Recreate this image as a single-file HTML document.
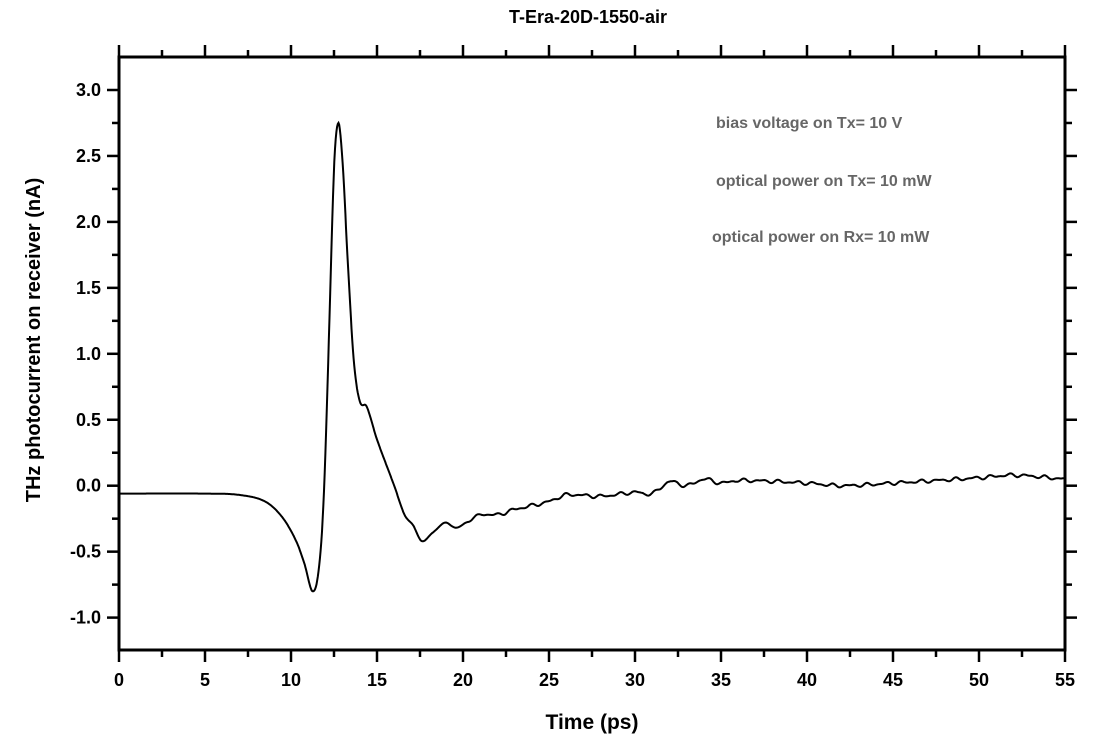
<!DOCTYPE html><html><head><style>body{margin:0;background:#fff}svg{display:block}text{font-family:"Liberation Sans",Arial,sans-serif;font-weight:bold}</style></head><body>
<svg id="s" width="1100" height="749" xmlns="http://www.w3.org/2000/svg">
<text x="588" y="23" font-size="18" text-anchor="middle">T-Era-20D-1550-air</text>
<text x="592" y="729" font-size="21" text-anchor="middle">Time (ps)</text>
<text transform="translate(40,340) rotate(-90)" font-size="20" text-anchor="middle">THz photocurrent on receiver (nA)</text>
<g fill="#666" font-size="16"><text x="716" y="128">bias voltage on Tx= 10 V</text><text x="716" y="186">optical power on Tx= 10 mW</text><text x="712" y="242">optical power on Rx= 10 mW</text></g>
<rect x="119" y="57" width="946" height="593" fill="none" stroke="#000" stroke-width="3"/>
<g id="ax" stroke="#000" stroke-width="2.5"></g><g id="lb" font-size="18"></g>
<polyline id="c" fill="none" stroke="#000" stroke-width="2"/>
</svg>
<script>
var X=t=>119+t*946/55,Y=v=>485.7-v*131.9,ax=document.getElementById('ax'),lb=document.getElementById('lb'),h='',l='';
for(var t=0;t<=55;t+=2.5){var m=t%5==0,L=m?12:7,x=X(t);h+=`<line x1="${x}" y1="650" x2="${x}" y2="${650+L}"/><line x1="${x}" y1="57" x2="${x}" y2="${57-L}"/>`;if(m)l+=`<text x="${x}" y="686" text-anchor="middle">${t}</text>`;}
for(var i=-5;i<=12;i++){var v=i*0.25,y=Y(v),m=i%2==0,L=m?12:7;if(y<57||y>650)continue;h+=`<line x1="119" y1="${y}" x2="${119-L}" y2="${y}"/><line x1="1065" y1="${y}" x2="${1065+L}" y2="${y}"/>`;if(m)l+=`<text x="101" y="${y+6}" text-anchor="end">${v.toFixed(1)}</text>`;}
ax.innerHTML=h;lb.innerHTML=l;
var d=[[0,-.06],[5,-.06],[7,-.07],[8.5,-.12],[9.5,-.24],[10.3,-.42],[10.8,-.6],[11.25,-.8],[11.6,-.65],[11.9,-.1],[12.2,1.1],[12.5,2.4],[12.75,2.75],[13.0,2.45],[13.3,1.7],[13.65,0.95],[14,.64],[14.4,.6],[15,.35],[16,0],[16.6,-.22],[17.1,-.3],[17.6,-.42],[18.2,-.36],[19,-.28],[19.6,-.32],[20.3,-.27],[21,-.22],[22,-.22],[23,-.18],[25,-.12],[26,-.07],[28,-.08],[30,-.05],[31,-.06],[32,.03],[33,0],[34,.05],[35,.02],[36,.04],[40,.02],[42,0],[45,.02],[50,.06],[52,.08],[55,.05]],p=[];
function cr(t){var k=0;while(k<d.length-2&&d[k+1][0]<t)k++;var a=d[Math.max(k-1,0)],b=d[k],c=d[k+1],e=d[Math.min(k+2,d.length-1)];var h=c[0]-b[0],f=(t-b[0])/h;
var m1=(c[1]-a[1])/(c[0]-a[0]||1)*h,m2=(e[1]-b[1])/(e[0]-b[0]||1)*h;var f2=f*f,f3=f2*f;return (2*f3-3*f2+1)*b[1]+(f3-2*f2+f)*m1+(-2*f3+3*f2)*c[1]+(f3-f2)*m2;}
for(var t=0;t<=55;t+=0.04){var v=cr(t);var w=Math.min(1,Math.max(0,(t-18)/4));v+=w*(0.009*Math.sin(t*6.1)+0.006*Math.sin(t*9.7+1));p.push(X(t).toFixed(1)+','+Y(v).toFixed(1));}
document.getElementById('c').setAttribute('points',p.join(' '));
</script></body></html>
